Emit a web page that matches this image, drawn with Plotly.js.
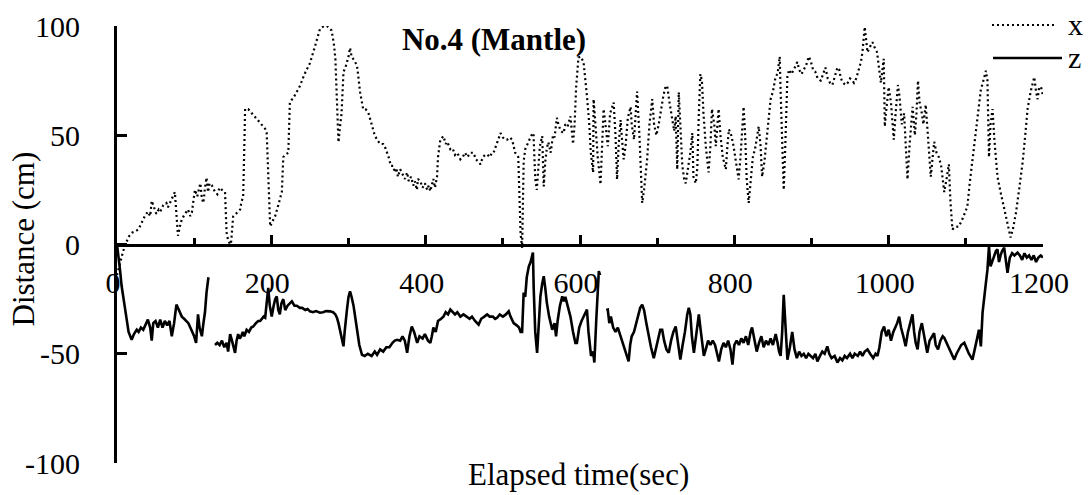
<!DOCTYPE html>
<html>
<head>
<meta charset="utf-8">
<script src="https://cdn.plot.ly/plotly-3.0.1.min.js"></script>
<style>html,body{margin:0;padding:0;background:#fff;}#chart{width:1090px;height:495px;}</style>
</head>
<body>
<div id="chart"></div>
<script>
// ---- data ----
const xTime = [0,4,8,12,16,20,24,28,32,36,40,43,45,48,51,54,56,60,64,66,70,75,77,79,82,84,88,92,95,97,99,101,104,108,110,112,114,116,118,120,123,127,130,133,136,140,142,144,146.6,148,150.5,154,157,159.6,161,163.5,165,166,170,175,180,185,189.5,192,194,196,198.5,202,205,209,213.6,215.5,218,222,224,230,237,243,250,256,263,268,272,278,281,283,284.5,285.6,287,289,291,293.5,296,298,300,302,304,306,308,311,313,315,319,322,325.6,330,334,337,341,345,348,352,355,358,360,362,364,367,370,373,376,378,381,384,386,388.7,390,393,396,399,402,404,406,408,410,412,414.7,416,419,423,426,428,432,435,438,441,445,448,451,454,458,462,465,468,471,474,477,479.7,483,486,488,491,494,497,500,503,505.6,509,512,514,516,520,522,523,525,526,527,529,532,535,537,539.7,541,542,544,546,548,551,552,553,555,557,559,562,565,567,570,572,575,578.7,581,584,587.6,589,591,593,595,598,601,604.6,607,609,612,614,617,617.6,620,623,626.6,628,630.6,633,636,639,643.6,646,648,650,652.6,654,656.6,659,662,665.6,667,670,672,674,677,679,680.6,683,687,690,693.6,696,699,702,705,708,711,713,716,719,722,724,726,728,730,732.6,735,737,740,743,745.6,747,750,752,754,756,758,760,763,766.6,769,771,774,776,779.6,782,785,789,791,793,796,799,802,805.6,808,810,812,814,816,818.6,821,824,827,829,831.6,834,836,839,842,845,847,850,853.6,856,858.8,860,862,864,866,868.8,871,874,877,881.6,884,887,890,893,896.5,899,902,905,908,912,915,918,921,924,927,930,933.6,936,938,941,944,947,950,953,955,958,961,964,966,969,971,972.6,975,979,982,985,987,990,993.6,995,997,1000,1003,1006.6,1009,1012,1014,1017,1020,1022,1024.4,1027,1029,1031,1034,1036,1038,1040,1043,1045,1048,1051,1054.6,1057,1059,1062,1065,1068,1070,1072,1075,1078,1080,1082.6,1086,1091,1096,1102,1105,1108.6,1111,1113,1116,1119.5,1122,1126,1128,1130,1132,1134.6,1137,1141,1145,1149,1153,1158,1161,1165,1169,1173.6,1177,1180,1184,1188.7,1191,1193,1195,1197.5,1200];
const xValues = [-14,-8,-3,1,4,5.5,6,7,10,13,15,13,20,17,14,16,15,18,19,17,20,24,14,4,9,11.5,14,16,13,14.6,20,25,22,28,21,19,26,30.6,24,28,27,24,23,26,25,24,5.5,2,0,1.4,12.8,14,15,16,19,22,45,62,62,60,58,56,54,53,51,30,8.3,11,13,18,24,40,41,42,65,68,72.5,78,83,90,98.6,100,100,98,92,85,70,54,46.8,54,60,79,81,83.5,86,90,86,85,84,82,76,69.7,62,62,60.5,55,50,48,46,46,44,40,36,36,33,35,31,34.4,32,30,33,29,31,27,29,25,30,29,26,28,25,27,24.4,28,30,26,31,40,48,49.6,46,47,43.6,44,41,42,39,40,42,40,42,42,39,38,36.7,40,41,41.3,40,42,42,45,48,51,49,48,48,49,48,45,42,40,20,5,-1.5,20,38,43.6,46,48,50,51,40,30,25,38,45,49.6,38,26.6,38,44,46.8,42,50,49,58,55,52,51,55,54,58.7,52,46,55,72,85.6,86,83.5,76,68,55,42,33,66.5,55,40,27.5,40,62,55,45,60,65,50,29.8,45,57,50,39,45,58,63,55,48,60,70,50,30,19,25,39,55,66.5,55,50,55,62,68,72.5,72.5,65,58,52,58.7,34.4,69.7,55,36,30,28,35,42,51,31,28,35,60,78,75,60,45,33,45,62,55,45,62,50,40,34.4,45,52.7,50,45,38,29.8,40,55,63,50,30,19,30,40,44,48,54,45,31,38,48,58,66.5,70,77,78,86,70,45,25,45,77,80,78,80,83.5,80,78,80,82,86,84,80,79,76,75,78,81,76,74,73,77,81,80,76,74,73,74,76,75,74,76,80,83.5,88,99.5,93,88,90,92.6,90,88,82,74,85,54,62,72,65,48,60,73,68,55,60,45,29.8,45,55,63,50,60,75,65,60,55,64,50,31,40,47,42,40,36,30,24,30,36.7,20,6.9,8,8.3,12,17.4,28,39,45,51,62,71,74,79.5,75,40,55,62,48,31,24,17.4,10,3.2,7,14.6,25,37.6,50,62,70,76.6,70,66.5,72,72,68];

const zTime = [0,2,4,6,9,12.6,15,19,22,25.6,28,31,34,37,40,43,45,47,50,53,56,59,62,65,68,71,74,77,80,84,87,90,92.5,95,98,100,102.5,105,107,110,112,114,116,118.5,122,127,130,133,136,139,142,144,146.6,149,151,153,155,157,159,161,163,165,168,171,174,176.6,180,183,185.5,188,190,192,194,196,198,200.5,203,205,207,209,211,213,215.5,218,221,224,226.6,230,233,237,240,244,247,250,254,258,263,267,271,276,280,283,285,287,289,291,293.5,295,296.5,298,300,302,304,306.5,309,311,314,317.5,321,325,330,334,337,341,345,349,353,357,360,363,367,370,373,376,379,382,385,389,392,396,399,403,406,408,410,413,416,420,423,426,429,432,435,438,441,445,449,453,457,460,464,468.6,472,476,479.6,483,487,490,492.6,496,500,504,507.6,510,514,518,521,523,525,527,529,531,533.7,536,537.5,539,540,542,544.4,546,548.7,551,553,555,557,560,564,567,569,571,574,577,579,581,584,587.6,591,594,596,599,602,605,607,609,611,614.3,617,618.6,621,624.4,626,630,634,636,638,640,643,646,649,652.6,655,658,661,663,665,667,670,673,676,678,680.6,683,686,689,692,695.6,698,701,704,706.5,709,712,715,718,721,724,727,730,733,736,739,741,743,745,747.6,750,752,754,756,758,760.5,763,766,769,772,775,778,780,783,786,789,792,795,797.6,800,803,806,809,812,815,818,821,823,826,829,832,835,838,841,844,847,850,853.6,856,858,860,862,864,866,868.8,872,875,878,881,884,887,890,893,896,899,902,905,907.6,911,914,917,920.5,923,926,930,933.6,937,940,943,946,950,953,956,960,963,966,969,972.6,976,980,983,985.5,988,991,994,997,1000,1003,1006,1009,1011,1013.6,1016,1019,1022,1025,1028,1030.8,1033,1035,1037.5,1040,1043,1046,1050,1053,1056,1058.8,1061,1064,1067,1070,1072,1075,1078,1081,1085,1088,1091,1094,1098,1101,1104,1108.6,1111,1114,1117,1119.5,1121.7,1124,1126,1128,1130,1132,1134,1137,1139,1141,1143,1145,1147,1149.7,1152,1154,1157,1160,1163,1167,1170,1173,1176,1179,1182,1185,1188,1191,1194,1197,1200];
const zValues = [0,-5,-12,-19,-27,-34.4,-40,-43.6,-41,-39,-40,-38,-39,-37,-34.4,-38,-44,-36,-35,-38,-34.4,-38,-35,-37,-35,-42,-36,-27.5,-30,-33,-34,-35,-36,-38,-40,-42,-45,-32,-38,-42,-36,-31,-22,-15,null,-46,-45,-46,-44,-47,-45,-49,-41,-44,-47,-49.6,-44,-41,-43,-42,-40,-42,-39,-40,-38,-37.5,-36,-35,-35,-34,-33,-33.5,-28,-19.8,-28,-33,-28,-25,-23.7,-30,-32,-27,-25,-30,-28,-27,-26,-28,-28,-29,-29,-30,-29.5,-30.6,-31,-30.5,-31.2,-31,-30.5,-30.6,-31,-32,-33.5,-36,-39,-43,-46.6,-40,-33,-29.8,-24,-21.4,-24,-28,-34,-39,-46,-50.5,-51,-50,-51,-49,-50.5,-48,-49,-47,-47,-45,-44,-43.6,-44,-42,-44,-49.6,-42,-37.5,-40,-45,-42,-43,-41,-44,-45,-42,-38,-40,-35,-34,-33,-31,-32,-29.8,-31,-32,-31,-33,-32,-33,-34,-33,-35,-36.7,-34,-33,-32,-33,-33,-34,-33.5,-32,-33,-32,-30.6,-33,-36,-37,-38,-40,-40,-22,-24,-15,-10,-8,-5,-3.7,-20,-40,-49.6,-40,-23.7,-18,-14.5,-20,-26.6,-33,-39,-36,-42,-35,-28,-23.7,-26,-24,-28,-33,-40,-45,-45,-38,-35,-33,-31,-29.8,-40,-51,-49,-54,-35,-12.2,-14,null,-30,-29.8,-36,-33,-38,-40,-38,-42,-44,-48,-51,-53.5,-46,-42,-40,-36,-32,-29,-27.5,-30,-36,-42,-47,-52,-48,-44,-39,-39,-44,-48,-49.6,-44,-40,-37.5,-45,-52.7,-46,-40,-32,-29,-32,-42,-49.6,-42,-36,-32,-38,-45,-51,-48,-44,-46,-44,-46,-50,-53.5,-48,-45,-47,-44,-48,-55,-46,-44,-46,-43,-45,-42,-46,-40,-38,-44,-49,-45,-42,-47,-44,-46,-43,-46,-41,-45,-49,-51,-40,-23,-35,-52.7,-47,-40,-48,-52,-49,-51,-50,-52,-50,-51,-52,-50,-53.5,-51,-49,-50,-46.6,-50,-52,-51,-54,-52,-53,-51,-52,-50,-52,-50,-51,-49,-51,-49,-48,-50,-52,-50,-51,-47,-40,-37.5,-42,-39,-44,-40,-38,-36,-33,-38,-42,-46.6,-40,-36,-32,-40,-45,-48,-40,-36,-42,-49.6,-44,-42,-40.6,-46,-48,-44,-42,-42.7,-45,-48,-50,-52.7,-50,-48,-46,-45,-48,-50,-52.7,-48,-44,-39,-46.6,-31,-25,-17.6,-11.5,-0.8,-10,-8,-6,-3,-2.3,-8,-5,-3,-1.5,-8,-13,-6,-4,-5,-3.7,-5,-7,-4,-6,-5,-7,-5,-8,-6,-5,-6];

const seriesNames = ["x", "z"];
const xTickVals = [0, 200, 400, 600, 800, 1000, 1200];
const xTickText = ["0", "200", "400", "600", "800", "1000", "1200"];
const xMinorTickVals = [100, 300, 500, 700, 900, 1100];
const yTickVals = [-100, -50, 0, 50, 100];
const yTickText = ["-100", "-50", "0", "50", "100"];
const chartTitle = "No.4 (Mantle)";
const xAxisTitle = "Elapsed time(sec)";
const yAxisTitle = "Distance (cm)";

// ---- chart ----
const FONT = 'Liberation Serif, Times New Roman, Times, serif';

const traces = [
  {
    x: xTime, y: xValues, name: seriesNames[0], type: 'scatter', mode: 'lines',
    line: {color: '#000', width: 2.2, dash: '2px,3px'},
    connectgaps: false, showlegend: false, hoverinfo: 'skip'
  },
  {
    x: zTime, y: zValues, name: seriesNames[1], type: 'scatter', mode: 'lines',
    line: {color: '#000', width: 2.6},
    connectgaps: false, showlegend: false, hoverinfo: 'skip'
  }
];

// plot area: left 117, right 1043, top 26, bottom 463 (pixels)
const L = 117, R = 1043, T = 26, B = 463;
const PW = R - L, PH = B - T;
const px = v => (v - L) / PW;
const py = v => (B - v) / PH;

const layout = {
  width: 1090, height: 495,
  margin: {l: L, r: 1090 - R, t: T, b: 495 - B, pad: 0},
  paper_bgcolor: '#fff', plot_bgcolor: 'rgba(0,0,0,0)',
  font: {family: FONT, size: 30, color: '#000'},
  showlegend: false,
  title: {
    text: '<b>' + chartTitle + '</b>',
    font: {family: FONT, size: 31, color: '#000'},
    xref: 'paper', x: px(494), xanchor: 'center',
    yref: 'container', y: 1 - 39.5 / 495, yanchor: 'middle'
  },
  xaxis: {
    range: [0, 1200], autorange: false, fixedrange: true,
    anchor: 'free', position: 0.5,
    showline: true, linecolor: '#000', linewidth: 3,
    showgrid: false, zeroline: false,
    tickmode: 'array', tickvals: xTickVals, ticktext: xTickText,
    ticks: 'inside', ticklen: 9, tickwidth: 3, tickcolor: '#000',
    minor: {tickmode: 'array', tickvals: xMinorTickVals, ticks: 'inside', ticklen: 6, tickwidth: 3, tickcolor: '#000', showgrid: false},
    tickfont: {family: FONT, size: 30, color: '#000'},
    ticklabelstandoff: 10, ticklabelshift: -4
  },
  yaxis: {
    range: [-100, 100], autorange: false, fixedrange: true,
    showline: true, linecolor: '#000', linewidth: 3,
    showgrid: false, zeroline: false,
    tickmode: 'array', tickvals: yTickVals, ticktext: yTickText,
    ticks: 'inside', ticklen: 10, tickwidth: 3, tickcolor: '#000',
    tickfont: {family: FONT, size: 30, color: '#000'},
    ticklabelstandoff: 28
  },
  annotations: [
    {text: xAxisTitle, xref: 'paper', yref: 'paper', x: px(578), y: py(475),
     xanchor: 'center', yanchor: 'middle', showarrow: false,
     font: {family: FONT, size: 31, color: '#000'}},
    {text: yAxisTitle, xref: 'paper', yref: 'paper', x: px(22.5), y: py(239),
     xanchor: 'center', yanchor: 'middle', textangle: -90, showarrow: false,
     font: {family: FONT, size: 31, color: '#000'}},
    {text: seriesNames[0], xref: 'paper', yref: 'paper', x: px(1066), y: py(24),
     xanchor: 'left', yanchor: 'middle', showarrow: false,
     font: {family: FONT, size: 30, color: '#000'}},
    {text: seriesNames[1], xref: 'paper', yref: 'paper', x: px(1066), y: py(58),
     xanchor: 'left', yanchor: 'middle', showarrow: false,
     font: {family: FONT, size: 30, color: '#000'}}
  ],
  shapes: [
    {type: 'line', xref: 'paper', yref: 'paper', x0: px(992), x1: px(1057), y0: py(25), y1: py(25),
     line: {color: '#000', width: 2.2, dash: '2px,3px'}},
    {type: 'line', xref: 'paper', yref: 'paper', x0: px(993), x1: px(1062), y0: py(58), y1: py(58),
     line: {color: '#000', width: 2.6}}
  ]
};

Plotly.newPlot('chart', traces, layout, {staticPlot: true, displayModeBar: false});
</script>
</body>
</html>
